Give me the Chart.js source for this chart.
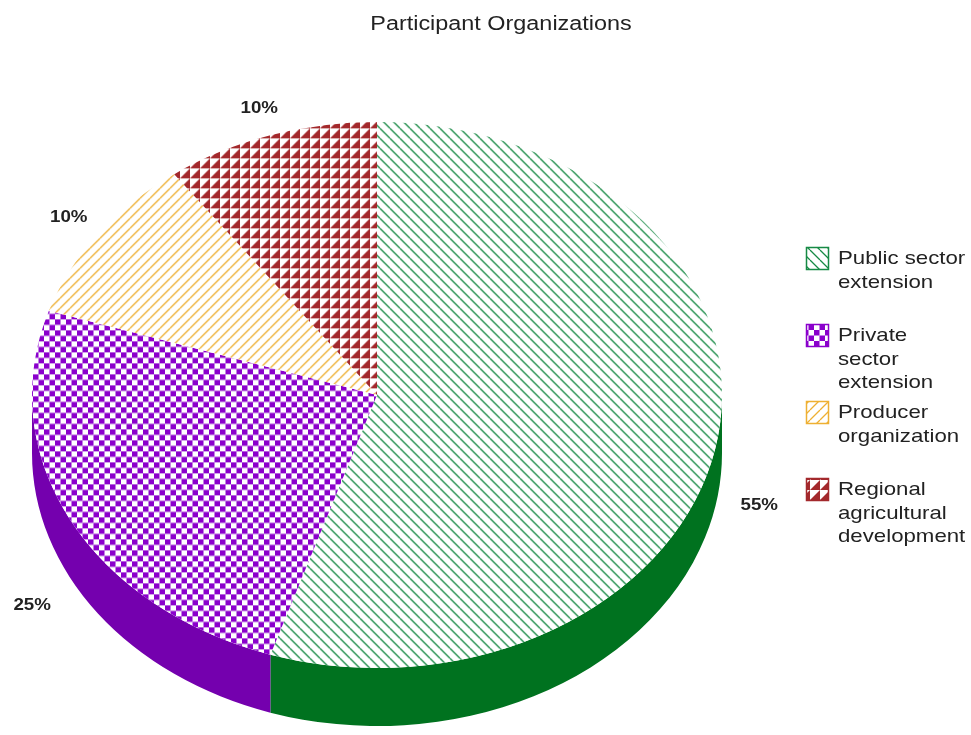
<!DOCTYPE html>
<html>
<head>
<meta charset="utf-8">
<script src="https://cdn.jsdelivr.net/npm/chart.js@4.4.0/dist/chart.umd.min.js"></script>
<style>
    body { margin: 0; background: #fff; }
    canvas { display: block; }
</style>
</head>
<body>
<canvas id="grafico" width="971" height="735"></canvas>
<script>
const categories = ["Public sector extension", "Private sector extension", "Producer organization", "Regional agricultural development"];
const legendLines = [["Public sector", "extension"], ["Private", "sector", "extension"], ["Producer", "organization"], ["Regional", "agricultural", "development"]];
const shares = [55, 25, 10, 10];
const lineColors = ["#178a45", "#8a00cc", "#eeb033", "#a3292c"];
const sideColors = ["#00721f", "#7400ae", "#c89020", "#7d1c1e"];
const patternKinds = ["back", "checker", "slash", "triangle"];

const SQUASH = 273 / 345;
const DEPTH = 58;
const CENTER_Y = 395;
const STRETCH = 1.17;
const FONT = "'Liberation Sans', Arial, sans-serif";

function makePattern(kind, color, compensate) {
    const s = kind === "checker" ? 11 : 10;
    const c = document.createElement("canvas");
    c.width = s;
    c.height = s;
    const g = c.getContext("2d");
    g.fillStyle = "#fff";
    g.fillRect(0, 0, s, s);
    g.fillStyle = color;
    g.strokeStyle = color;
    g.lineWidth = 1.3;

    if (kind === "back" || kind === "slash") {
        g.beginPath();
        [-s, 0, s].forEach(o => {
            if (kind === "back") {
                g.moveTo(o, 0);
                g.lineTo(o + s, s);
            } else {
                g.moveTo(o, s);
                g.lineTo(o + s, 0);
            }
        });
        g.stroke();
    } else if (kind === "checker") {
        g.fillRect(0, 0, s / 2, s / 2);
        g.fillRect(s / 2, s / 2, s / 2, s / 2);
    } else {
        g.beginPath();
        g.moveTo(0, s);
        g.lineTo(s, 0);
        g.lineTo(s, s);
        g.closePath();
        g.fill();
    }

    const p = g.createPattern(c, "repeat");
    if (compensate) {
        p.setTransform(new DOMMatrix([1, 0, 0, 1 / SQUASH, 0, 0]));
    }
    return p;
}

const piePatterns = patternKinds.map((k, i) => makePattern(k, lineColors[i], true));
const legendPatterns = patternKinds.map((k, i) => makePattern(k, lineColors[i], false));

// text in the picture is a bit wider than the font, so stretch it
function drawText(ctx, text, x, y) {
    ctx.save();
    ctx.translate(x, y);
    ctx.scale(STRETCH, 1);
    ctx.fillText(text, 0, 0);
    ctx.restore();
}

const pie3d = {
    id: "pie3d",
    beforeDatasetsDraw(chart) {
        const ctx = chart.ctx;
        const arcs = chart.getDatasetMeta(0).data;
        const cx = arcs[0].x;
        const cy = arcs[0].y;
        const r = arcs[0].outerRadius;

        // side walls, only the front half is visible
        ctx.save();
        arcs.forEach((arc, i) => {
            const s = Math.max(arc.startAngle, 0);
            const e = Math.min(arc.endAngle, Math.PI);
            if (e <= s) return;
            ctx.beginPath();
            ctx.ellipse(cx, CENTER_Y, r, r * SQUASH, 0, s, e);
            ctx.ellipse(cx, CENTER_Y + DEPTH, r, r * SQUASH, 0, e, s, true);
            ctx.closePath();
            ctx.fillStyle = sideColors[i];
            ctx.fill();
        });
        ctx.restore();

        // squash the top face
        ctx.save();
        ctx.translate(cx, CENTER_Y);
        ctx.scale(1, SQUASH);
        ctx.translate(-cx, -cy);
    },
    afterDatasetsDraw(chart) {
        const ctx = chart.ctx;
        ctx.restore();

        const arcs = chart.getDatasetMeta(0).data;
        const cx = arcs[0].x;
        const r = arcs[0].outerRadius;

        ctx.save();
        ctx.fillStyle = "#222";
        ctx.font = "bold 16px " + FONT;
        ctx.textAlign = "center";
        ctx.textBaseline = "middle";
        arcs.forEach((arc, i) => {
            const mid = (arc.startAngle + arc.endAngle) / 2;
            const sin = Math.sin(mid);
            const rl = r + (sin > 0 ? 42 : 36);
            const x = cx + rl * Math.cos(mid);
            let y = CENTER_Y + rl * sin * SQUASH;
            if (sin > 0) y += DEPTH + 30 * sin;
            drawText(ctx, shares[i] + "%", x, y);
        });

        // title
        ctx.font = "20px " + FONT;
        drawText(ctx, "Participant Organizations", 501, 24);

        // legend
        ctx.textAlign = "left";
        ctx.font = "19px " + FONT;
        legendLines.forEach((lines, i) => {
            const top = 247 + i * 77;
            ctx.fillStyle = legendPatterns[i];
            ctx.fillRect(806, top, 23, 23);
            ctx.strokeStyle = lineColors[i];
            ctx.lineWidth = 1.5;
            ctx.strokeRect(806.5, top + 0.5, 22, 22);
            ctx.fillStyle = "#222";
            lines.forEach((t, j) => {
                drawText(ctx, t, 838, top + 12 + j * 23.5);
            });
        });
        ctx.restore();
    }
};

new Chart(document.getElementById("grafico"), {
    type: "pie",
    data: {
        labels: categories,
        datasets: [{
            data: shares,
            backgroundColor: piePatterns,
            borderWidth: 0
        }]
    },
    options: {
        responsive: false,
        animation: false,
        radius: 345,
        layout: { padding: { left: 0, right: 217, top: 40, bottom: 0 } },
        plugins: {
            legend: { display: false },
            title: { display: false },
            tooltip: { enabled: false }
        }
    },
    plugins: [pie3d]
});
</script>
</body>
</html>
